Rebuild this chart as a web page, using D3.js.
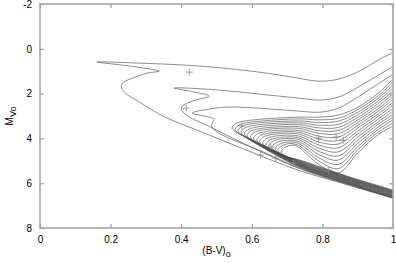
<!DOCTYPE html>
<html>
<head>
<meta charset="utf-8">
<script src="https://cdn.jsdelivr.net/npm/d3@7"></script>
<style>
  body { margin: 0; background: #fff; }
  text { font-family: "Liberation Sans", Arial, sans-serif; }
</style>
</head>
<body>
<div id="chart"></div>
<script>
// tick values
var xTicks = [0, 0.2, 0.4, 0.6, 0.8, 1];
var yTicks = [-2, 0, 2, 4, 6, 8];

// isochrones, [B-V, Mv] pairs
var iso01 = [[0.997,0.19],[0.958,0.50],[0.915,0.91],[0.873,1.22],[0.831,1.40],[0.783,1.44],[0.732,1.31],[0.620,1.04],[0.451,0.77],[0.282,0.64],[0.161,0.59],[0.254,0.77],[0.338,1.00],[0.304,1.08],[0.262,1.31],[0.234,1.53],[0.231,1.75],[0.245,2.02],[0.282,2.38],[0.338,2.92],[0.380,3.23],[0.451,3.67],[0.592,4.57],[0.732,5.42],[0.873,6.08],[1.0,6.67]];
var iso02 = [[0.997,0.82],[0.944,1.31],[0.887,1.84],[0.845,2.16],[0.794,2.29],[0.732,2.20],[0.620,2.02],[0.507,1.84],[0.380,1.75],[0.437,1.93],[0.479,2.11],[0.442,2.29],[0.411,2.47],[0.400,2.65],[0.408,2.87],[0.428,3.09],[0.465,3.36],[0.592,4.34],[0.732,5.33],[0.873,6.06],[1.0,6.66]];
var iso03 = [[0.997,1.17],[0.944,1.71],[0.887,2.29],[0.845,2.65],[0.794,2.83],[0.732,2.78],[0.620,2.65],[0.535,2.60],[0.479,2.69],[0.431,2.87],[0.470,3.02],[0.493,3.14],[0.488,3.30],[0.487,3.48],[0.501,3.70],[0.535,3.99],[0.620,4.52],[0.732,5.30],[0.873,6.03],[1.0,6.65]];
var iso04 = [[1.0,6.64],[0.873,6.02],[0.732,5.26],[0.564,3.79],[0.550,3.66],[0.544,3.54],[0.552,3.36],[0.578,3.23],[0.732,3.05],[0.789,3.05],[0.845,2.96],[0.901,2.60],[0.958,1.98],[0.997,1.40]];
var iso05 = [[1.0,6.62],[0.873,6.00],[0.732,5.24],[0.573,3.86],[0.559,3.73],[0.553,3.61],[0.561,3.43],[0.587,3.30],[0.732,3.13],[0.789,3.17],[0.845,3.10],[0.901,2.71],[0.958,2.10],[0.997,1.53]];
var iso06 = [[1.0,6.60],[0.873,5.98],[0.732,5.22],[0.581,3.92],[0.567,3.79],[0.561,3.67],[0.569,3.49],[0.595,3.36],[0.732,3.22],[0.789,3.29],[0.845,3.23],[0.901,2.83],[0.958,2.21],[0.997,1.66]];
var iso07 = [[1.0,6.58],[0.873,5.96],[0.732,5.20],[0.590,3.99],[0.576,3.86],[0.570,3.74],[0.578,3.56],[0.604,3.43],[0.732,3.30],[0.789,3.41],[0.845,3.37],[0.901,2.94],[0.958,2.33],[0.997,1.79]];
var iso08 = [[1.0,6.56],[0.873,5.94],[0.732,5.18],[0.599,4.06],[0.585,3.93],[0.579,3.81],[0.587,3.63],[0.613,3.50],[0.732,3.38],[0.789,3.53],[0.845,3.51],[0.901,3.06],[0.958,2.44],[0.997,1.92]];
var iso09 = [[1.0,6.54],[0.873,5.92],[0.732,5.16],[0.607,4.13],[0.593,4.00],[0.587,3.88],[0.595,3.70],[0.621,3.57],[0.732,3.47],[0.789,3.65],[0.845,3.65],[0.901,3.17],[0.958,2.56],[0.997,2.05]];
var iso10 = [[1.0,6.51],[0.873,5.90],[0.732,5.15],[0.616,4.19],[0.602,4.06],[0.596,3.94],[0.604,3.76],[0.630,3.63],[0.732,3.55],[0.789,3.77],[0.845,3.79],[0.901,3.29],[0.958,2.68],[0.997,2.17]];
var iso11 = [[1.0,6.49],[0.873,5.88],[0.732,5.13],[0.625,4.26],[0.611,4.13],[0.605,4.01],[0.613,3.83],[0.639,3.70],[0.732,3.64],[0.789,3.90],[0.845,3.94],[0.901,3.41],[0.958,2.79],[0.997,2.30]];
var iso12 = [[1.0,6.47],[0.873,5.86],[0.732,5.11],[0.634,4.33],[0.620,4.20],[0.614,4.08],[0.622,3.90],[0.648,3.77],[0.732,3.72],[0.789,4.03],[0.845,4.09],[0.901,3.53],[0.958,2.91],[0.997,2.43]];
var iso13 = [[1.0,6.45],[0.873,5.84],[0.732,5.09],[0.642,4.39],[0.628,4.26],[0.622,4.14],[0.630,3.96],[0.656,3.83],[0.732,3.80],[0.789,4.16],[0.845,4.25],[0.901,3.66],[0.958,3.02],[0.997,2.56]];
var iso14 = [[1.0,6.43],[0.873,5.82],[0.732,5.07],[0.651,4.46],[0.637,4.33],[0.631,4.21],[0.639,4.03],[0.665,3.90],[0.732,3.89],[0.789,4.29],[0.845,4.42],[0.901,3.79],[0.958,3.14],[0.997,2.69]];
var iso15 = [[1.0,6.41],[0.873,5.80],[0.732,5.05],[0.660,4.53],[0.646,4.40],[0.640,4.28],[0.648,4.10],[0.674,3.97],[0.732,3.97],[0.789,4.43],[0.845,4.60],[0.901,3.93],[0.958,3.26],[0.997,2.82]];
var iso16 = [[1.0,6.39],[0.873,5.78],[0.732,5.03],[0.668,4.59],[0.654,4.46],[0.648,4.34],[0.656,4.16],[0.682,4.03],[0.732,4.05],[0.789,4.57],[0.845,4.78],[0.901,4.07],[0.958,3.37],[0.997,2.95]];
var iso17 = [[1.0,6.37],[0.873,5.76],[0.732,5.01],[0.677,4.66],[0.663,4.53],[0.657,4.41],[0.665,4.23],[0.691,4.10],[0.732,4.14],[0.789,4.71],[0.845,4.97],[0.901,4.21],[0.958,3.49],[0.997,3.08]];
var iso18 = [[1.0,6.35],[0.873,5.74],[0.732,4.99],[0.686,4.73],[0.672,4.60],[0.666,4.48],[0.674,4.30],[0.700,4.17],[0.732,4.22],[0.789,4.86],[0.845,5.16],[0.901,4.35],[0.958,3.60],[0.997,3.21]];
var iso19 = [[1.0,6.33],[0.873,5.72],[0.732,4.97],[0.694,4.79],[0.680,4.66],[0.674,4.54],[0.682,4.36],[0.708,4.23],[0.732,4.31],[0.789,5.00],[0.845,5.35],[0.901,4.49],[0.958,3.72],[0.997,3.34]];
var iso20 = [[1.0,6.30],[0.873,5.70],[0.732,4.95],[0.703,4.86],[0.689,4.73],[0.683,4.61],[0.691,4.43],[0.717,4.30],[0.732,4.39],[0.789,5.15],[0.845,5.55],[0.901,4.63],[0.958,3.83],[0.997,3.47]];

var isochrones = [iso01, iso02, iso03, iso04, iso05, iso06, iso07, iso08, iso09, iso10,
                  iso11, iso12, iso13, iso14, iso15, iso16, iso17, iso18, iso19, iso20];

// observed stars (+ markers)
var starBV = [0.423, 0.414, 0.572, 0.625, 0.654, 0.668, 0.718, 0.817, 0.789, 0.839, 0.859];
var starMv = [1.04, 2.65, 3.45, 4.75, 4.39, 4.88, 5.10, 5.42, 3.99, 3.94, 4.08];

var W = 396, H = 263;
var margin = { top: 4, right: 3, bottom: 35, left: 40 };

var svg = d3.select("#chart")
    .append("svg")
    .attr("width", W)
    .attr("height", H);

var x = d3.scaleLinear().domain([0, 1]).range([margin.left, W - margin.right]);
var y = d3.scaleLinear().domain([-2, 8]).range([margin.top, H - margin.bottom]);

var frameColor = "#a0a0a0";

// clip to plot area
svg.append("clipPath").attr("id", "clip")
    .append("rect")
    .attr("x", x(0)).attr("y", y(-2))
    .attr("width", x(1) - x(0)).attr("height", y(8) - y(-2));

var line = d3.line()
    .x(function (d) { return x(d[0]); })
    .y(function (d) { return y(d[1]); })
    .curve(d3.curveCatmullRom.alpha(0.5));

var plot = svg.append("g").attr("clip-path", "url(#clip)");

plot.selectAll("path.iso")
    .data(isochrones)
    .enter()
    .append("path")
    .attr("class", "iso")
    .attr("d", line)
    .attr("fill", "none")
    .attr("stroke", "#404040")
    .attr("stroke-width", 0.6);

// + markers
var stars = starBV.map(function (b, i) { return [b, starMv[i]]; });
plot.selectAll("path.star")
    .data(stars)
    .enter()
    .append("path")
    .attr("class", "star")
    .attr("d", function (d) {
        var cx = x(d[0]), cy = y(d[1]);
        return "M" + (cx - 3.5) + "," + cy + "H" + (cx + 3.5) + "M" + cx + "," + (cy - 3.5) + "V" + (cy + 3.5);
    })
    .attr("stroke", "#888")
    .attr("stroke-width", 0.8);

// axes, ticks pointing inward on all four sides
function styleAxis(g) {
    g.select(".domain").remove();
    g.selectAll(".tick line").attr("stroke", frameColor).attr("stroke-width", 1.2);
    g.selectAll(".tick text").attr("fill", "#000").style("font-size", "10px");
}

svg.append("g")
    .attr("transform", "translate(0," + y(8) + ")")
    .call(d3.axisBottom(x).tickValues(xTicks).tickSize(-4).tickPadding(8)
        .tickFormat(function (d) { return d; }))
    .call(styleAxis);

svg.append("g")
    .attr("transform", "translate(0," + y(-2) + ")")
    .call(d3.axisTop(x).tickValues(xTicks).tickSize(-4).tickFormat(""))
    .call(styleAxis);

svg.append("g")
    .attr("transform", "translate(" + x(0) + ",0)")
    .call(d3.axisLeft(y).tickValues(yTicks).tickSize(-4).tickPadding(8)
        .tickFormat(function (d) { return d; }))
    .call(styleAxis);

svg.append("g")
    .attr("transform", "translate(" + x(1) + ",0)")
    .call(d3.axisRight(y).tickValues(yTicks).tickSize(-4).tickFormat(""))
    .call(styleAxis);

// frame
svg.append("rect")
    .attr("x", x(0)).attr("y", y(-2))
    .attr("width", x(1) - x(0)).attr("height", y(8) - y(-2))
    .attr("fill", "none")
    .attr("stroke", frameColor)
    .attr("stroke-width", 1.5);

// axis titles
var xl = svg.append("text")
    .attr("x", (x(0) + x(1)) / 2)
    .attr("y", 254)
    .attr("text-anchor", "middle")
    .style("font-size", "10px");
xl.append("tspan").text("(B-V)");
xl.append("tspan").attr("dy", 3).style("font-size", "9px").text("o");

var yl = svg.append("text")
    .attr("transform", "translate(13," + ((y(-2) + y(8)) / 2) + ") rotate(-90)")
    .attr("text-anchor", "middle")
    .style("font-size", "10px");
yl.append("tspan").text("M");
yl.append("tspan").attr("dy", 3).style("font-size", "9px").text("Vo");
</script>
</body>
</html>
